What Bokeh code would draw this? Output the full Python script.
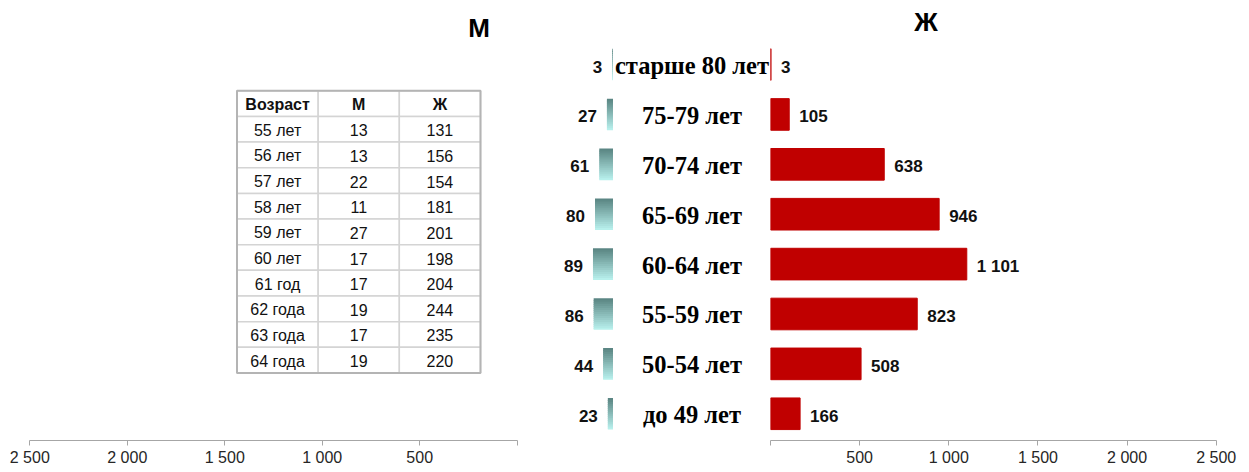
import numpy as np
from bokeh.plotting import figure
from bokeh.layouts import row
from bokeh.models import Range1d, LinearAxis, FixedTicker, Label, ColumnDataSource
from bokeh.core.properties import value
from bokeh.embed import file_html
from bokeh.resources import INLINE

# ---------------- data ----------------
categories = ["до 49 лет", "50-54 лет", "55-59 лет", "60-64 лет",
              "65-69 лет", "70-74 лет", "75-79 лет", "старше 80 лет"]
men = [23, 44, 86, 89, 80, 61, 27, 3]
women = [166, 508, 823, 1101, 946, 638, 105, 3]
tick_values = [0, 500, 1000, 1500, 2000, 2500]
tick_labels = ["", "500", "1 000", "1 500", "2 000", "2 500"]
title_men = "М"
title_women = "Ж"
table_header = ["Возраст", "М", "Ж"]
table_ages = ["55 лет", "56 лет", "57 лет", "58 лет", "59 лет",
              "60 лет", "61 год", "62 года", "63 года", "64 года"]
table_men = [13, 13, 22, 11, 27, 17, 17, 19, 17, 19]
table_women = [131, 156, 154, 181, 201, 198, 204, 244, 235, 220]

# ---------------- layout (page pixels) ----------------
H = 468
LEFT_X0, SPLIT, RIGHT_X1 = 0, 770, 1245
BOTTOM_BORDER = 27
FRAME_TOP, FRAME_BOTTOM = 0, H - BOTTOM_BORDER
BAR_H = 0.634


def anchor(pa, va, pb, vb):
    k = (vb - va) / (pb - pa)
    return lambda p: va + (p - pa) * k


# y (categories): index 0 at page y 414.2, index 7 at 64.2
ymap = anchor(414.2, 0, 64.2, 7)
# men bars: 0 at x 612.5, 0.225 px per unit (reversed)
mmap = anchor(612.5, 0, 612.5 - 22.5, 100)
# men axis: 0 at 516.7, 2500 at 29.3
amap = anchor(516.7, 0, 29.3, 2500)
# women: 0 at 770, 2500 at 1215.7
wmap = anchor(770, 0, 1215.7, 2500)
# table
txmap = anchor(236.5, 0, 480, 3)
tymap = anchor(90.5, 0, 373.3, len(table_ages) + 1)

FONT = "Liberation Sans"
SERIF = "Liberation Serif"


def base_fig(width, xr, yr):
    p = figure(width=width, height=H, x_range=xr, y_range=yr,
               output_backend="svg", toolbar_location=None,
               x_axis_type=None, y_axis_type=None,
               min_border_left=0, min_border_right=0, min_border_top=0,
               min_border_bottom=BOTTOM_BORDER)
    p.outline_line_color = None
    p.xgrid.visible = False
    p.ygrid.visible = False
    p.background_fill_color = "white"
    p.border_fill_color = "white"
    return p


def style_axis(ax):
    ax.ticker = FixedTicker(ticks=tick_values)
    ax.major_label_overrides = {v: l for v, l in zip(tick_values, tick_labels)}
    ax.bounds = (tick_values[0], tick_values[-1])
    ax.axis_line_color = "#a6a6a6"
    ax.major_tick_line_color = "#a6a6a6"
    ax.major_tick_in = 0
    ax.major_tick_out = 5
    ax.minor_tick_line_color = None
    ax.major_label_standoff = 3
    ax.major_label_text_font = FONT
    ax.major_label_text_font_size = "16px"
    ax.major_label_text_color = "#262626"


yr = Range1d(ymap(FRAME_BOTTOM), ymap(FRAME_TOP))
idx = list(range(len(categories)))

# ================= left figure (men) =================
p1 = base_fig(SPLIT - LEFT_X0,
              Range1d(mmap(LEFT_X0), mmap(SPLIT)), yr)
p1.extra_x_ranges = {"ax": Range1d(amap(LEFT_X0), amap(SPLIT)),
                     "tx": Range1d(txmap(LEFT_X0), txmap(SPLIT))}
p1.extra_y_ranges = {"ty": Range1d(tymap(FRAME_BOTTOM), tymap(FRAME_TOP))}

ax1 = LinearAxis(x_range_name="ax")
style_axis(ax1)
p1.add_layout(ax1, "below")

# gradient men bars (horizontal strips, overlapping to avoid seams)
N = 16
c_top = np.array([0x5b, 0x86, 0x84])
c_bot = np.array([0xb8, 0xf0, 0xec])
L, R, T, B, C = [], [], [], [], []
for y, v in zip(idx, men):
    for k in range(N):
        t = k / (N - 1)
        col = (c_top * (1 - t) + c_bot * t).astype(int)
        top = y + BAR_H / 2 - k * BAR_H / N
        bottom = y - BAR_H / 2 if k == N - 1 else top - 1.6 * BAR_H / N
        L.append(v); R.append(0)
        T.append(top); B.append(bottom)
        C.append("#%02x%02x%02x" % tuple(col))
p1.quad(left=L, right=R, top=T, bottom=B, fill_color=C, line_color=None)

# men value labels
p1.text(x=men, y=idx, text=[str(v) for v in men], x_offset=-10, y_offset=2,
        text_align="right", text_baseline="middle",
        text_font=value(FONT), text_font_style="bold",
        text_font_size=value("17px"), text_color="#111111")

# category labels
cx = mmap(691.5)
p1.text(x=[cx] * len(categories), y=idx, text=categories, y_offset=1,
        text_align="center", text_baseline="middle",
        text_font=value(SERIF), text_font_style="bold",
        text_font_size=value("24.5px"), text_color="#000000")

# title М
p1.add_layout(Label(x=mmap(478.5), y=ymap(28), text=title_men,
                    text_align="center", text_baseline="middle",
                    text_font=FONT, text_font_style="bold",
                    text_font_size="26px", text_color="#000000"))

# table
cells_x, cells_y, cells_t, cells_b = [], [], [], []
rows = [table_header] + [[a, str(m), str(w)] for a, m, w in zip(table_ages, table_men, table_women)]
for r, rw in enumerate(rows):
    for c, txt in enumerate(rw):
        cells_x.append(c + 0.5); cells_y.append(r + 0.5); cells_t.append(txt)
        cells_b.append("bold" if r == 0 else "normal")
p1.rect(x=cells_x, y=cells_y, width=1, height=1, fill_color="white",
        line_color="#d4d4d4", line_width=1.5,
        x_range_name="tx", y_range_name="ty")
p1.quad(left=[0], right=[len(table_header)], top=[0], bottom=[len(rows)],
        fill_color=None, line_color="#b4b4b4", line_width=2,
        x_range_name="tx", y_range_name="ty")
tsrc = ColumnDataSource(dict(x=cells_x, y=cells_y, t=cells_t, s=cells_b))
p1.text(x="x", y="y", text="t", text_font_style="s", source=tsrc,
        text_align="center", text_baseline="middle", y_offset=1,
        text_font=value(FONT), text_font_size=value("16px"),
        text_color="#111111", x_range_name="tx", y_range_name="ty")

# ================= right figure (women) =================
p2 = base_fig(RIGHT_X1 - SPLIT, Range1d(wmap(SPLIT), wmap(RIGHT_X1)), yr)
ax2 = LinearAxis()
style_axis(ax2)
p2.add_layout(ax2, "below")

p2.hbar(y=idx, left=0, right=women, height=BAR_H,
        fill_color="#c00000", line_color="#c00000", line_width=1)
p2.text(x=women, y=idx, text=[f"{v:,}".replace(",", " ") for v in women],
        x_offset=10, y_offset=2, text_align="left", text_baseline="middle",
        text_font=value(FONT), text_font_style="bold",
        text_font_size=value("17px"), text_color="#111111")
p2.add_layout(Label(x=wmap(925.5), y=ymap(22), text=title_women,
                    text_align="center", text_baseline="middle",
                    text_font=FONT, text_font_style="bold",
                    text_font_size="26px", text_color="#000000"))

layout = row(p1, p2)
open("out.html", "w").write(file_html(layout, INLINE))
